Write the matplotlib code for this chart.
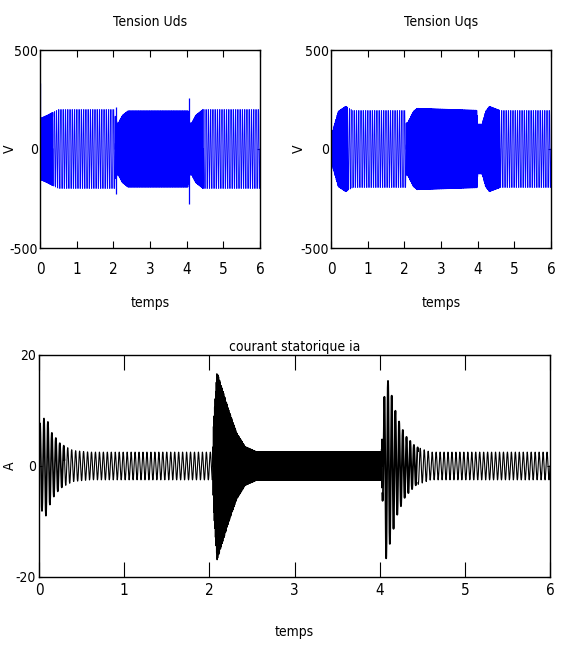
import numpy as np
import matplotlib
matplotlib.use("Agg")
import matplotlib.pyplot as plt

plt.rcParams['font.family'] = ['DejaVu Sans']
plt.rcParams['font.stretch'] = 'condensed'
plt.rcParams['font.size'] = 10

# ---------------- data ----------------
x_ticks = [0, 1, 2, 3, 4, 5, 6]
v_ticks = [-500, 0, 500]
i_ticks = [-20, 0, 20]

# Tension Uds : envelope key points (time s, amplitude V)
uds_env_t = [0.0, 0.02, 0.2, 0.5, 2.04, 2.06, 2.12, 2.25, 2.4, 4.04, 4.06, 4.12, 4.25, 4.45, 6.0]
uds_env_a = [150, 155, 170, 200, 200, 150, 125, 170, 192, 192, 140, 125, 170, 200, 200]
uds_seg_t0 = [0.0, 0.35, 2.05, 4.05, 4.45]
uds_seg_t1 = [0.35, 2.05, 4.05, 4.45, 6.0]
uds_seg_f = [60.0, 20.5, 60.0, 60.0, 20.5]
uds_seg_lw = [0.85, 0.45, 0.85, 0.85, 0.45]
uds_spike_t = [0.0, 2.07, 4.07]
uds_spike_hi = [335, 212, 258]
uds_spike_lo = [-150, -225, -278]

# Tension Uqs
uqs_env_t = [0.0, 0.03, 0.2, 0.4, 0.6, 2.04, 2.05, 2.1, 2.25, 2.35, 3.98, 4.0, 4.12, 4.22, 4.32, 4.6, 6.0]
uqs_env_a = [20, 80, 190, 215, 195, 195, 130, 135, 190, 205, 195, 125, 125, 190, 215, 195, 195]
uqs_seg_t0 = [0.0, 0.45, 2.05, 4.0, 4.6]
uqs_seg_t1 = [0.45, 2.05, 4.0, 4.6, 6.0]
uqs_seg_f = [60.0, 20.5, 60.0, 60.0, 20.5]
uqs_seg_lw = [0.85, 0.45, 0.85, 0.85, 0.45]

# Courant statorique ia
ia_env_t = [0.0, 0.03, 0.08, 0.15, 0.25, 0.4, 0.6, 2.04, 2.05, 2.09, 2.15, 2.23, 2.32, 2.42, 2.55,
            4.02, 4.04, 4.07, 4.12, 4.2, 4.3, 4.42, 4.6, 6.0]
ia_env_a = [7.5, 8, 9, 6, 4, 2.8, 2.5, 2.5, 8, 17, 14, 10, 6, 3.5, 2.6,
            2.6, 8, 17, 14, 9, 5.5, 3.5, 2.5, 2.5]
ia_seg_t0 = [0.0, 0.3, 2.04, 4.03, 4.45]
ia_seg_t1 = [0.3, 2.04, 4.03, 4.45, 6.0]
ia_seg_f = [21.5, 21.5, 150.0, 23.0, 21.5]
ia_seg_lw = [1.2, 0.8, 0.9, 1.3, 0.8]


def draw_wave(ax, seg_t0, seg_t1, seg_f, seg_lw, env_t, env_a, dt, color):
    for t0, t1, f, lw in zip(seg_t0, seg_t1, seg_f, seg_lw):
        t = np.arange(t0, t1 + dt / 2, dt)
        env = np.interp(t, env_t, env_a)
        ax.plot(t, env * np.sin(2 * np.pi * f * t), color=color, lw=lw)


fig = plt.figure(figsize=(5.63, 6.45), dpi=100)
ax1 = fig.add_axes([40 / 563, 1 - 248 / 645, 220 / 563, 198 / 645])
ax2 = fig.add_axes([331 / 563, 1 - 248 / 645, 220 / 563, 198 / 645])
ax3 = fig.add_axes([39 / 563, 1 - 577 / 645, 511 / 563, 222 / 645])

draw_wave(ax1, uds_seg_t0, uds_seg_t1, uds_seg_f, uds_seg_lw, uds_env_t, uds_env_a, 0.0005, 'blue')
ax1.vlines(uds_spike_t, uds_spike_lo, uds_spike_hi, color='blue', lw=0.9)
draw_wave(ax2, uqs_seg_t0, uqs_seg_t1, uqs_seg_f, uqs_seg_lw, uqs_env_t, uqs_env_a, 0.0005, 'blue')
draw_wave(ax3, ia_seg_t0, ia_seg_t1, ia_seg_f, ia_seg_lw, ia_env_t, ia_env_a, 0.0004, 'black')

for ax, title, vx in [(ax1, 'Tension Uds', -0.105), (ax2, 'Tension Uqs', -0.114)]:
    ax.set_xlim(0, 6)
    ax.set_ylim(-500, 500)
    ax.set_xticks(x_ticks)
    ax.set_yticks(v_ticks)
    ax.set_yticklabels([str(v) for v in v_ticks])
    ax.set_title(title, pad=17, fontsize=10)
    ax.set_xlabel('temps', labelpad=14, fontsize=10)
    ax.set_ylabel('V', fontsize=10)
    ax.yaxis.set_label_coords(vx, 0.5)
    ax.tick_params(axis='x', direction='in', top=True, bottom=True, length=5, pad=10, labelsize=11)
    ax.tick_params(axis='y', direction='in', left=True, right=True, length=2, pad=1.5, labelsize=10)

ax3.set_xlim(0, 6)
ax3.set_ylim(-20, 20)
ax3.set_xticks(x_ticks)
ax3.set_yticks(i_ticks)
ax3.set_yticklabels([str(v) for v in i_ticks])
ax3.set_title('courant statorique ia', pad=3, fontsize=10)
ax3.set_xlabel('temps', labelpad=19, fontsize=10)
ax3.set_ylabel('A', fontsize=10)
ax3.yaxis.set_label_coords(-0.043, 0.5)
ax3.tick_params(axis='x', direction='in', top=True, bottom=True, length=10.5, pad=4.5, labelsize=11)
ax3.tick_params(axis='y', direction='in', left=True, right=True, length=2, pad=2, labelsize=10)

for ax in (ax1, ax2, ax3):
    for s in ax.spines.values():
        s.set_linewidth(1.0)

fig.savefig('out.png', dpi=100)
